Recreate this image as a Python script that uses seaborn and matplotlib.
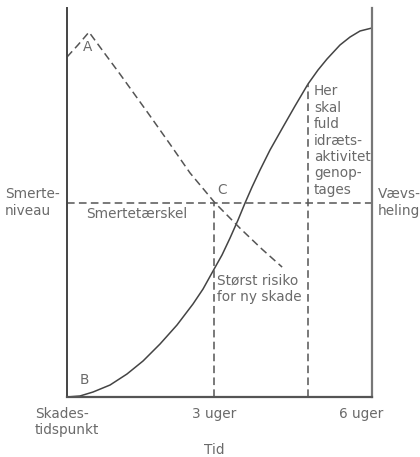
import matplotlib
matplotlib.use("Agg")
import matplotlib.pyplot as plt
import seaborn as sns
import pandas as pd

# ---- data (x in weeks, y in arbitrary level units 0-100) ----
pain_x = [0.0, 0.224, 0.449, 0.776, 1.082, 1.653, 2.102, 2.51, 3.02, 3.53, 3.98, 4.39]
pain_y = [87.4, 90.5, 93.8, 88.2, 83.0, 73.0, 65.0, 57.6, 49.9, 43.4, 38.0, 33.4]

heal_x = [0.0, 0.265, 0.531, 0.878, 1.224, 1.551, 1.898, 2.245, 2.571, 2.776, 2.980,
          3.163, 3.327, 3.490, 3.633, 3.776, 3.939, 4.143, 4.408, 4.653, 4.918,
          5.122, 5.306, 5.571, 5.776, 5.980, 6.224]
heal_y = [0.0, 0.26, 1.28, 3.08, 5.91, 9.25, 13.62, 18.51, 23.91, 27.76, 32.39,
          36.50, 40.87, 45.50, 49.87, 53.98, 58.35, 63.50, 69.41, 74.81, 80.46,
          84.06, 86.89, 90.49, 92.54, 94.09, 94.86]

threshold = 50.0
week3 = 3.0
return_week = 4.918
return_level = 80.46

tick_pos = [0, 3, 6]
tick_labels = ["Skades-\ntidspunkt", "3 uger", "6 uger"]

sns.set_style("white")
plt.rcParams["font.family"] = ["DejaVu Sans"]

txt = "#6a6a6a"
dcol = "#555555"
dash = (0, (5, 2.8))

fig = plt.figure(figsize=(4.2, 4.57), dpi=100)
ax = fig.add_axes([67 / 420, 1 - 397 / 457, (372 - 67) / 420, (397 - 8) / 457])

pain_df = pd.DataFrame({"x": pain_x, "y": pain_y})
heal_df = pd.DataFrame({"x": heal_x, "y": heal_y})

sns.lineplot(data=heal_df, x="x", y="y", ax=ax, color="#444444", lw=1.1,
             sort=False, estimator=None)
sns.lineplot(data=pain_df, x="x", y="y", ax=ax, color=dcol, lw=1.1,
             sort=False, estimator=None, linestyle=dash)

ax.plot([0, 6.224], [threshold, threshold], color=dcol, lw=1.1, linestyle=dash)
ax.plot([week3, week3], [0, threshold], color=dcol, lw=1.1, linestyle=dash)
ax.plot([return_week, return_week], [0, return_level], color=dcol, lw=1.1, linestyle=dash)

ax.set_xlim(0, 6.224)
ax.set_ylim(0, 100)

ax.spines["top"].set_visible(False)
ax.spines["left"].set_color("#444444")
ax.spines["left"].set_linewidth(1.4)
ax.spines["bottom"].set_color("#555555")
ax.spines["bottom"].set_linewidth(1.6)
ax.spines["right"].set_color("#777777")
ax.spines["right"].set_linewidth(1.6)

ax.set_xticks(tick_pos)
ax.set_xticklabels(tick_labels, color=txt, fontsize=9.8)
for lab in ax.get_xticklabels():
    lab.set_verticalalignment("top")
ax.get_xticklabels()[0].set_multialignment("left")
ax.tick_params(axis="x", length=0, pad=7)
ax.set_yticks([])
ax.set_xlabel("")
ax.set_ylabel("")

fs = 9.8
ax.text(3.0, -13.6, "Tid", color=txt, fontsize=fs, ha="center", va="center", clip_on=False)
ax.text(-1.265, 50, "Smerte-\nniveau", color=txt, fontsize=fs, ha="left", va="center",
        linespacing=1.25, clip_on=False)
ax.text(6.35, 50, "Vævs-\nheling", color=txt, fontsize=fs, ha="left", va="center",
        linespacing=1.25, clip_on=False)
ax.text(0.39, 47.0, "Smertetærskel", color=txt, fontsize=fs, ha="left", va="center")
ax.text(0.43, 90.0, "A", color=txt, fontsize=fs, ha="center", va="center")
ax.text(0.35, 4.4, "B", color=txt, fontsize=fs, ha="center", va="center")
ax.text(3.16, 53.2, "C", color=txt, fontsize=fs, ha="center", va="center")
ax.text(3.06, 27.8, "Størst risiko\nfor ny skade", color=txt, fontsize=fs, ha="left",
        va="center", linespacing=1.25)
ax.text(5.04, 65.9, "Her\nskal\nfuld\nidræts-\naktivitet\ngenop-\ntages", color=txt,
        fontsize=fs, ha="left", va="center", linespacing=1.22)

fig.savefig("out.png", dpi=100)
